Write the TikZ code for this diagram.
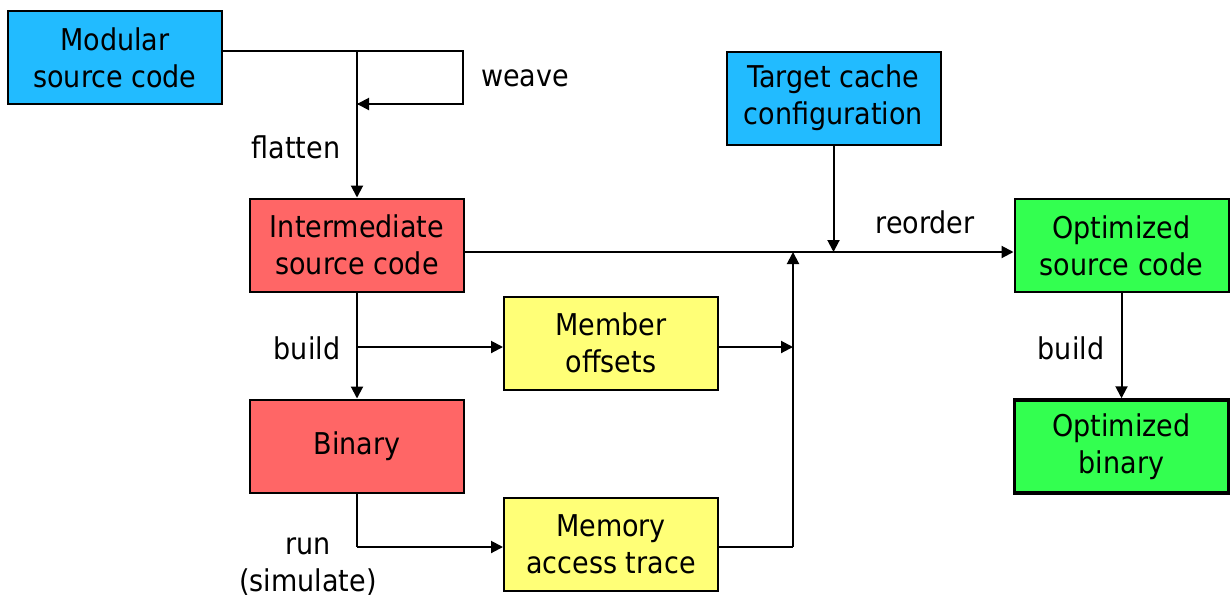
\documentclass[tikz,border=0pt]{standalone}
\usepackage{fontspec}
\setmainfont{DejaVu Sans Condensed}
\usetikzlibrary{arrows.meta}
\definecolor{cblue}{HTML}{22BBFF}
\definecolor{cred}{HTML}{FF6666}
\definecolor{cyellow}{HTML}{FFFF77}
\definecolor{cgreen}{HTML}{33FF50}
\begin{document}
\begin{tikzpicture}[x=1pt,y=-1pt,
  box/.style={draw=black,line width=2pt,minimum width=214pt,minimum height=93pt,
    inner sep=0pt,align=center,font=\fontsize{30}{37}\selectfont},
  lbl/.style={font=\fontsize{30}{37}\selectfont,inner sep=0pt,align=center},
  conn/.style={line width=2pt},
  arr/.style={conn,-{Triangle[length=12pt,width=12pt]}}]
\useasboundingbox (0,0) rectangle (1230,603);
% boxes
\node[box,fill=cblue]   (mod)  at (115,57.5)  {Modular\\source code};
\node[box,fill=cred]    (inter) at (357,245)  {Intermediate\\source code};
\node[box,fill=cred]    (bin)  at (357,446)   {Binary};
\node[box,fill=cyellow] (mem)  at (611,343)   {Member\\offsets};
\node[box,fill=cyellow] (trace) at (611,544)  {Memory\\access trace};
\node[box,fill=cblue]   (cache) at (833.5,98) {Target cache\\configuration};
\node[box,fill=cgreen]  (osrc) at (1121.5,245.5) {Optimized\\source code};
\node[box,fill=cgreen,line width=3.5pt] (obin) at (1121.5,446.5) {Optimized\\binary};
% junction points
\coordinate (w1) at (357,51);
\coordinate (w2) at (463,51);
\coordinate (w3) at (463,104);
\coordinate (w4) at (357,104);
\coordinate (b1) at (357,347);
\coordinate (r1) at (357,547);
\coordinate (m1) at (793,347);
\coordinate (t1) at (793,547);
\coordinate (j1) at (793,252);
\coordinate (c1) at (833.5,252);
% connectors
\draw[conn] (mod.east |- w1) -- (w2) -- (w3) -- (w4);
\draw[arr] (w3) -- (w4);
\draw[arr] (w1) -- (inter.north);
\draw[arr] (inter.east |- c1) -- (osrc.west |- c1);
\draw[arr] (cache.south) -- (c1);
\draw[arr] (inter.south) -- (bin.north);
\draw[arr] (b1) -- (mem.west |- b1);
\draw[arr] (mem.east |- m1) -- (m1);
\draw[conn] (bin.south) -- (r1);
\draw[arr] (r1) -- (trace.west |- r1);
\draw[conn] (trace.east |- t1) -- (t1);
\draw[arr] (t1) -- (j1);
\draw[arr] (osrc.south) -- (obin.north);
% labels
\node[lbl] (lweave) at (525,78) {weave};
\node[lbl] (lflat) at (296,147) {flatten};
\node[lbl] (lreord) at (925,222) {reorder};
\node[lbl] (lbuild) at (307,348) {build};
\node[lbl] (lbuild2) at (1071,348) {build};
\node[lbl] (lrun) at (308,567) {run\\(simulate)};
\end{tikzpicture}
\end{document}
